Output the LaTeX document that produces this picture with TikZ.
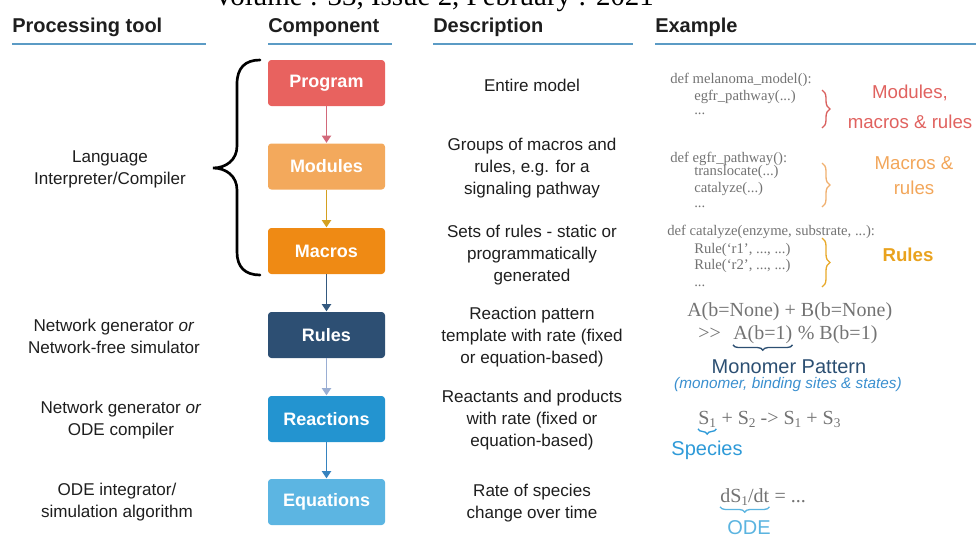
\documentclass[tikz,border=0pt]{standalone}
\usepackage{fontspec}
\setmainfont{Liberation Sans}
\newfontfamily\serifcode[Ligatures=TeXOff]{Liberation Serif}
\usetikzlibrary{arrows.meta,decorations.pathreplacing}
\definecolor{hdrline}{HTML}{5B9BC5}
\definecolor{cProgram}{HTML}{E8625F}
\definecolor{cModules}{HTML}{F3A95C}
\definecolor{cMacros}{HTML}{EF8A14}
\definecolor{cRules}{HTML}{2D4F73}
\definecolor{cReactions}{HTML}{2394D0}
\definecolor{cEquations}{HTML}{5CB5E2}
\definecolor{aProgram}{HTML}{D2697A}
\definecolor{aModules}{HTML}{D4A020}
\definecolor{aMacros}{HTML}{34597F}
\definecolor{aRules}{HTML}{9AAED3}
\definecolor{aReactions}{HTML}{3683BF}
\definecolor{codegray}{HTML}{737373}
\definecolor{txt}{HTML}{1E1E1E}
\definecolor{lred}{HTML}{E0625F}
\definecolor{lorange}{HTML}{F2A65A}
\definecolor{lgold}{HTML}{E9A21E}
\definecolor{bred}{HTML}{D9605E}
\definecolor{borange}{HTML}{F0B070}
\definecolor{bgold}{HTML}{E8A92A}
\definecolor{mnavy}{HTML}{2C4F72}
\definecolor{mblue}{HTML}{3A8FCF}
\definecolor{sblue}{HTML}{2E9AD8}
\definecolor{oblue}{HTML}{5BB4E0}
\newcommand\mysub[1]{\raisebox{-0.35ex}{\fontsize{10}{10}\selectfont #1}}
\begin{document}
\begin{tikzpicture}[x=0.75pt,y=-0.75pt,
 hdr/.style={font=\fontsize{15}{18}\selectfont\bfseries, text=txt, anchor=base west, inner sep=0pt},
 hline/.style={draw=hdrline, line width=2.2pt},
 comp/.style={rounded corners=2.5pt, minimum width=87.75pt, minimum height=34.5pt, inner sep=0pt, text=white, font=\fontsize{13.5}{16}\selectfont\bfseries},
 arr/.style={line width=1.3pt, -{Triangle[length=5.5pt,width=7pt]}, shorten >=0.3pt},
 desc/.style={align=center, text=txt, font=\fontsize{12.8}{16.5}\selectfont, inner sep=0pt},
 code/.style={font=\serifcode\fontsize{11}{13}\selectfont, text=codegray, anchor=base west, inner sep=0pt},
 bigcode/.style={font=\serifcode\fontsize{15}{18}\selectfont, text=codegray, anchor=base west, inner sep=0pt},
 lbl/.style={align=center, inner sep=0pt},
 vbrace/.style={decorate, decoration={brace, amplitude=6pt}, line width=1pt},
 hbrace/.style={decorate, decoration={brace, amplitude=4pt}, line width=1pt},
]
\useasboundingbox (0,0) rectangle (976,536);
\clip (0,0) rectangle (976,536);

% overlay running header (cut at top)
\node[anchor=base west, inner sep=0pt, font=\serifcode\fontsize{21.7}{24}\selectfont] (vol) at (213,5) {Volume : 33, Issue 2, February : 2021};

% column headers
\node[hdr] (hProc) at (12,32) {Processing tool};
\node[hdr] (hComp) at (268,32) {Component};
\node[hdr] (hDesc) at (433,32) {Description};
\node[hdr] (hEx) at (655,32) {Example};
\draw[hline] (12,44) -- (206,44);
\draw[hline] (268,44) -- (392,44);
\draw[hline] (433,44) -- (633,44);
\draw[hline] (655,44) -- (976,44);

% components
\node[comp, fill=cProgram] (prog) at (326.5,83) {Program};
\node[comp, fill=cModules] (mods) at (326.5,166.5) {Modules};
\node[comp, fill=cMacros] (macs) at (326.5,251) {Macros};
\node[comp, fill=cRules] (rules) at (326.5,335) {Rules};
\node[comp, fill=cReactions] (reac) at (326.5,419) {Reactions};
\node[comp, fill=cEquations] (eqs) at (326.5,502) {Equations};

\draw[arr, aProgram] (prog) -- (mods);
\draw[arr, aModules] (mods) -- (macs);
\draw[arr, aMacros] (macs) -- (rules);
\draw[arr, aRules] (rules) -- (reac);
\draw[arr, aReactions] (reac) -- (eqs);

% big brace
\draw[line width=2pt, black, line cap=round]
 (260,60) .. controls (245,60) and (237,68) .. (237,84) -- (237,146)
 .. controls (237,160) and (226,168) .. (213,168)
 .. controls (226,168) and (237,176) .. (237,190) -- (237,252)
 .. controls (237,267) and (245,275) .. (260,275);

% processing tools
\node[desc] (pLang) at (110,169) {Language\\Interpreter/Compiler};
\node[desc] (pNet1) at (114,336) {Network generator \textit{or}\\Network-free simulator};
\node[desc] (pNet2) at (121,420) {Network generator \textit{or}\\ODE compiler};
\node[desc] (pOde) at (117,502) {ODE integrator/\\simulation algorithm};

% descriptions
\node[desc] (dProg) at (532,85) {Entire model};
\node[desc] (dMods) at (532,168) {Groups of macros and\\rules, e.g. for a\\signaling pathway};
\node[desc] (dMacs) at (532,255) {Sets of rules - static or\\programmatically\\generated};
\node[desc] (dRules) at (532,337) {Reaction pattern\\template with rate (fixed\\or equation-based)};
\node[desc] (dReac) at (532,420) {Reactants and products\\with rate (fixed or\\equation-based)};
\node[desc] (dEqs) at (532,503) {Rate of species\\change over time};

% example code
\node[code] (c1) at (670,83) {def melanoma\_model():};
\node[code] (c2) at (694,100) {egfr\_pathway(...)};
\node[code] (c3) at (694,114) {...};
\node[code] (c4) at (670,162) {def egfr\_pathway():};
\node[code] (c5) at (694,175) {translocate(...)};
\node[code] (c6) at (694,192) {catalyze(...)};
\node[code] (c7) at (694,207) {...};
\node[code] (c8) at (667,235) {def catalyze(enzyme, substrate, ...):};
\node[code] (c9) at (694,253) {Rule(‘r1’, ..., ...)};
\node[code] (c10) at (694,269) {Rule(‘r2’, ..., ...)};
\node[code] (c11) at (694,286) {...};

\coordinate (b1t) at (822,90);  \coordinate (b1b) at (822,128);
\coordinate (b2t) at (822,163); \coordinate (b2b) at (822,207);
\coordinate (b3t) at (822,238); \coordinate (b3b) at (822,287);
\draw[vbrace, bred] (b1t) -- (b1b);
\draw[vbrace, borange] (b2t) -- (b2b);
\draw[vbrace, bgold] (b3t) -- (b3b);

\node[lbl, text=lred, font=\fontsize{14}{22.5}\selectfont] (lMods) at (910,107) {Modules,\\macros \& rules};
\node[lbl, text=lorange, font=\fontsize{14}{19}\selectfont] (lMacs) at (914,175.5) {Macros \&\\rules};
\node[lbl, text=lgold, font=\fontsize{14}{17}\selectfont\bfseries] (lRules) at (908,255) {Rules};

% rule example
\node[bigcode] (r1) at (687,316) {A(b=None) + B(b=None)};
\node[bigcode] (r2a) at (698,339) {>>};
\node[bigcode] (r2b) at (733,339) {A(b=1)};
\node[bigcode] (r2c) at (r2b.base east) {\ \% B(b=1)};
\coordinate (mpR) at ([yshift=-1pt]r2b.south east);
\coordinate (mpL) at ([yshift=-1pt]r2b.south west);
\draw[hbrace, mnavy] (mpR) -- (mpL);
\node[lbl, text=mnavy, font=\fontsize{15}{18}\selectfont] (mp) at (789,367) {Monomer Pattern};
\node[lbl, text=mblue, font=\fontsize{11.5}{14}\selectfont\itshape] (mpd) at (788,385) {(monomer, binding sites \& states)};

% reaction example
\node[bigcode] (s1) at (698,424) {S\mysub{1}};
\node[bigcode] (s2) at (s1.base east) {\ + S\mysub{2} -> S\mysub{1} + S\mysub{3}};
\coordinate (spR) at ([yshift=-1pt]s1.south east);
\coordinate (spL) at ([yshift=-1pt]s1.south west);
\draw[hbrace, sblue] (spR) -- (spL);
\node[lbl, text=sblue, font=\fontsize{15}{18}\selectfont] (sp) at (707,450) {Species};

% ODE example
\node[bigcode] (d1) at (720,502) {dS\mysub{1}/dt};
\node[bigcode] (d2) at (d1.base east) {\ = ...};
\coordinate (odR) at ([yshift=-1pt]d1.south east);
\coordinate (odL) at ([yshift=-1pt]d1.south west);
\draw[hbrace, oblue] (odR) -- (odL);
\node[lbl, text=oblue, font=\fontsize{15}{18}\selectfont] (ode) at (749,528) {ODE};
\end{tikzpicture}
\end{document}
